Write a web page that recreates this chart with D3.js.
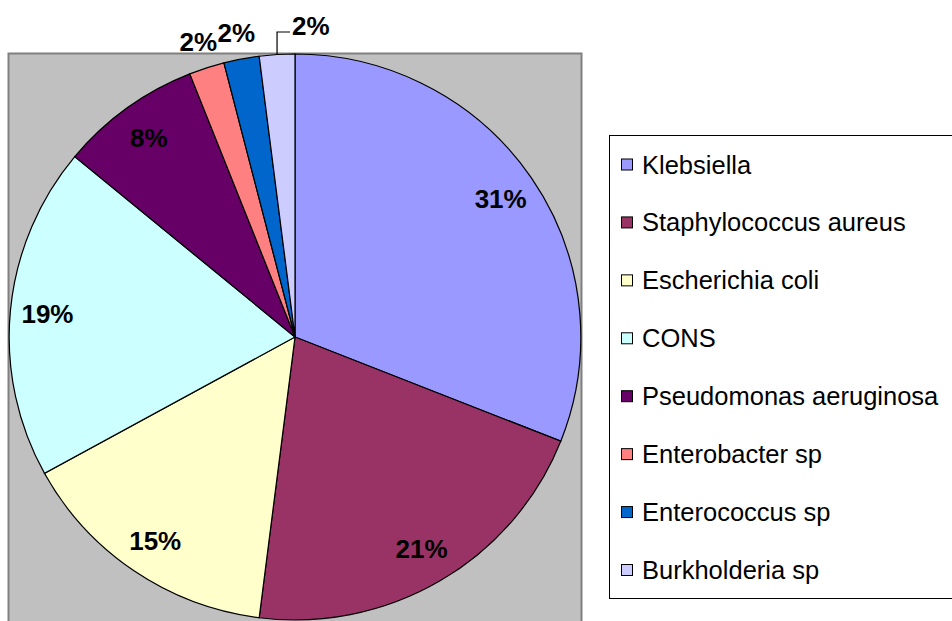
<!DOCTYPE html>
<html>
	<head>
		<meta charset="utf-8">
		<title>Pie</title>
		<script src="https://d3js.org/d3.v7.min.js"></script>
		<style>
			body { margin: 0; background: #fff; }
			svg { display: block; font-family: "Liberation Sans", Arial, sans-serif; }
		</style>
	</head>
	<body>
		<svg width="952" height="621"></svg>
		<script>
			var names = ['Klebsiella', 'Staphylococcus aureus', 'Escherichia coli', 'CONS',
				'Pseudomonas aeruginosa', 'Enterobacter sp', 'Enterococcus sp', 'Burkholderia sp'];
			var values = [31, 21, 15, 19, 8, 2, 2, 2];
			var colors = ['#9999FF', '#993366', '#FFFFCC', '#CCFFFF', '#660066', '#FF8080', '#0066CC', '#CCCCFF'];

			var svg = d3.select('svg'),
				cx = 295, cy = 337, r = 283;

			// plot area
			svg.append('rect')
				.attr('x', 8.5).attr('y', 53.5)
				.attr('width', 573).attr('height', 600)
				.attr('fill', '#C0C0C0')
				.attr('stroke', '#808080')
				.attr('stroke-width', 2);

			var data = names.map(function(n, i) { return {name: n, value: values[i], color: colors[i]}; });
			var pie = d3.pie().sort(null).value(function(d) { return d.value; });
			var arcs = pie(data);
			var arc = d3.arc().innerRadius(0).outerRadius(r);

			var g = svg.append('g').attr('transform', 'translate(' + cx + ',' + cy + ')');
			g.append('g').attr('transform', 'scale(1.01,1)')
				.selectAll('path')
				.data(arcs)
				.enter()
				.append('path')
				.attr('d', arc)
				.attr('fill', function(d) { return d.data.color; })
				.attr('stroke', '#000')
				.attr('stroke-width', 1.2);

			function pt(angle, rad) {
				return [Math.sin(angle) * rad * 1.01, -Math.cos(angle) * rad];
			}

			// labels
			arcs.forEach(function(d, i) {
				var mid = (d.startAngle + d.endAngle) / 2,
					txt = d.data.value + '%';
				if (d.data.value >= 5) {
					var p = pt(mid, r * 0.87);
					g.append('text').attr('x', p[0]).attr('y', p[1])
						.attr('text-anchor', 'middle').attr('dominant-baseline', 'central')
						.attr('font-weight', 'bold').attr('font-size', 26)
						.text(txt);
				} else if (i < arcs.length - 1) {
					var q = pt(mid, r + 27);
					g.append('text').attr('x', q[0]).attr('y', q[1])
						.attr('text-anchor', 'middle').attr('dominant-baseline', 'central')
						.attr('font-weight', 'bold').attr('font-size', 26)
						.text(txt);
				} else {
					// last one pushed right with a leader line
					var e = pt(mid, r),
						top = -r - 22;
					g.append('path')
						.attr('d', 'M' + e[0] + ',' + e[1] + 'V' + top + 'h13')
						.attr('fill', 'none').attr('stroke', '#000').attr('stroke-width', 1.2);
					g.append('text').attr('x', e[0] + 15).attr('y', top - 6)
						.attr('dominant-baseline', 'central')
						.attr('font-weight', 'bold').attr('font-size', 26)
						.text(txt);
				}
			});

			// legend
			var lg = svg.append('g');
			lg.append('rect')
				.attr('x', 609.5).attr('y', 135.5)
				.attr('width', 360).attr('height', 463)
				.attr('fill', '#fff').attr('stroke', '#000');

			var ly = d3.scaleLinear().domain([0, names.length - 1]).range([164.5, 570]);
			var items = lg.selectAll('g.item')
				.data(data)
				.enter()
				.append('g')
				.attr('transform', function(d, i) { return 'translate(0,' + ly(i) + ')'; });
			items.append('rect')
				.attr('x', 621.5).attr('y', -5.5)
				.attr('width', 11).attr('height', 11)
				.attr('fill', function(d) { return d.color; })
				.attr('stroke', '#000');
			items.append('text')
				.attr('x', 642).attr('y', 0)
				.attr('dominant-baseline', 'central')
				.attr('font-size', 25.5)
				.text(function(d) { return d.name; });
		</script>
	</body>
</html>
